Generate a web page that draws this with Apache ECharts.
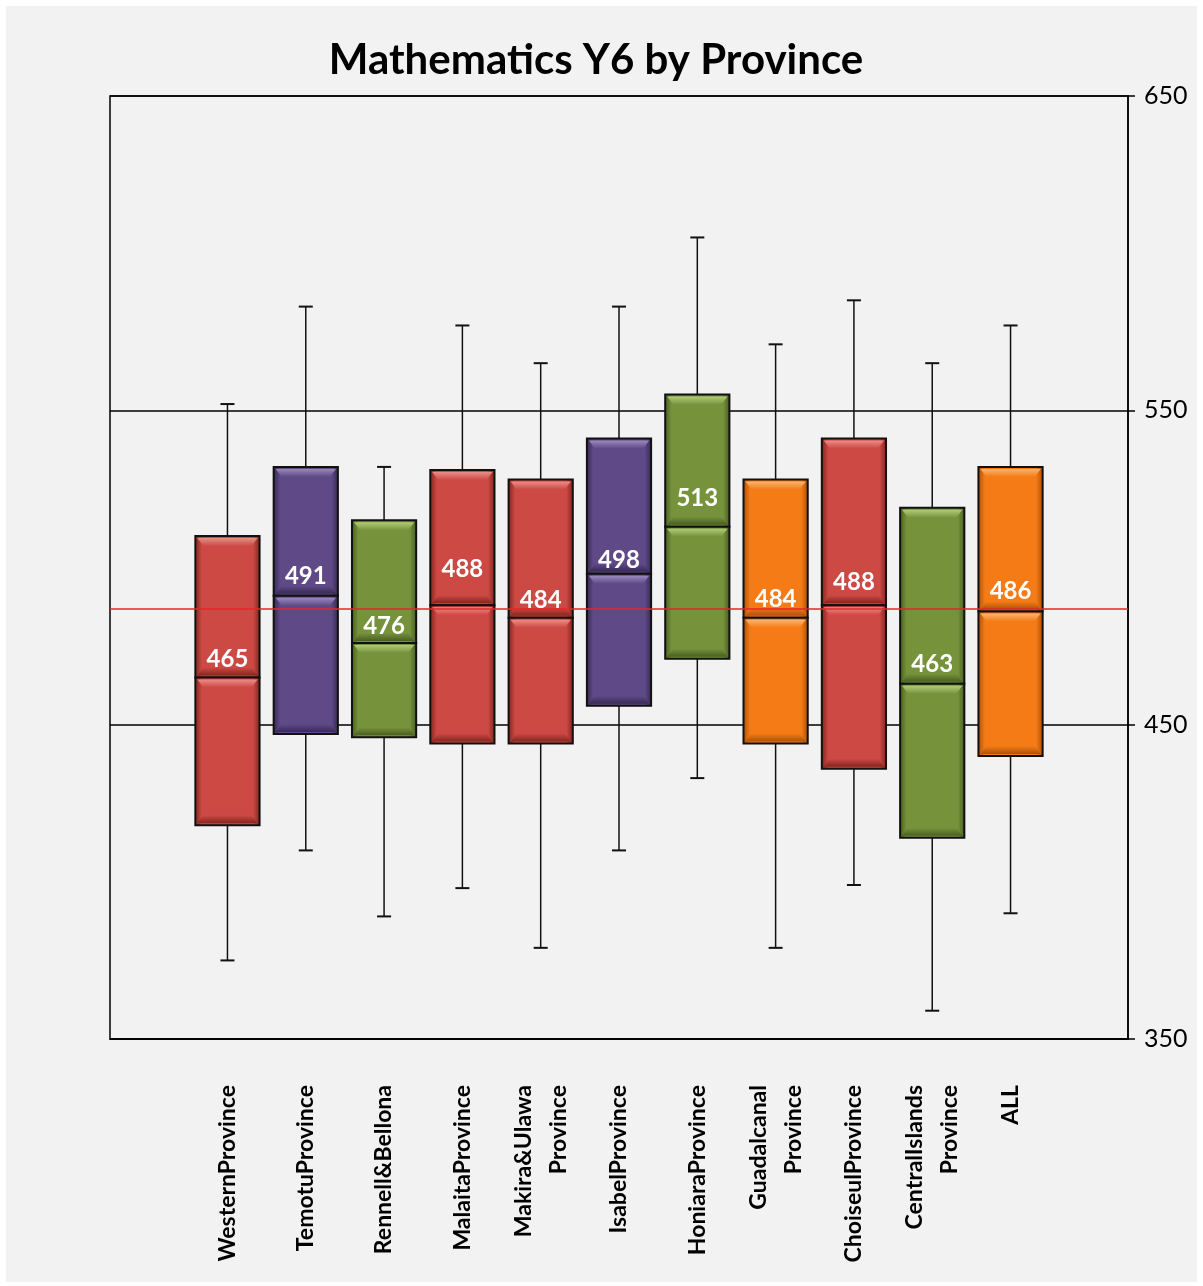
<!DOCTYPE html>
<html>
<head>
<meta charset="utf-8">
<script src="https://cdn.jsdelivr.net/npm/echarts@6/dist/echarts.min.js"></script>
<style>
  html, body { margin: 0; padding: 0; background: #ffffff; }
  #chart { position: absolute; left: 6px; top: 6px; width: 1191px; height: 1276px; }
</style>
</head>
<body>
<div id="chart"></div>
<script>
// ---- data ----
const categories = ['WesternProvince', 'TemotuProvince', 'Rennell&Bellona', 'MalaitaProvince',
  'Makira&Ulawa\nProvince', 'IsabelProvince', 'HoniaraProvince', 'Guadalcanal\nProvince',
  'ChoiseulProvince', 'CentralIslands\nProvince', 'ALL'];
const whiskerLow  = [375, 410, 389, 398, 379, 410, 433, 379, 399, 359, 390];
const q1          = [418, 447, 446, 444, 444, 456, 471, 444, 436, 414, 440];
const median      = [465, 491, 476, 488, 484, 498, 513, 484, 488, 463, 486];
const q3          = [510, 532, 515, 531, 528, 541, 555, 528, 541, 519, 532];
const whiskerHigh = [552, 583, 532, 577, 565, 583, 605, 571, 585, 565, 577];
const referenceValue = 487;
const yTicks = [350, 450, 550, 650];

// ---- styles ----
const palette = {
  red:    { base: '#cc4944', light: '#ec8c87', dark: '#86261f' },
  purple: { base: '#5f4a87', light: '#9a88bd', dark: '#382a55' },
  green:  { base: '#76933c', light: '#afcb77', dark: '#4a5f20' },
  orange: { base: '#f47b15', light: '#fdb470', dark: '#ad5209' }
};
const boxColors = ['red', 'purple', 'green', 'red', 'red', 'purple', 'green', 'orange', 'red', 'green', 'orange'];
// pixel lift of each value label above its median line (label placement style)
const labelLift = [18, 20, 17, 36, 18, 14, 28, 19, 23, 20, 20];

const axisLabels = [''].concat(categories, ['']);
const boxData = categories.map((c, i) => [i + 1, whiskerLow[i], q1[i], median[i], q3[i], whiskerHigh[i]]);

function segment(x0, x1, yTop, yBot, col) {
  const h = yBot - yTop;
  const bev = Math.min(10, h / 3);
  const inset = 8;
  return [
    { type: 'rect', shape: { x: x0, y: yTop, width: x1 - x0, height: h },
      style: { fill: new echarts.graphic.LinearGradient(0, 0, 1, 0, [
        { offset: 0, color: col.dark }, { offset: 0.1, color: col.base },
        { offset: 0.9, color: col.base }, { offset: 1, color: col.dark }]) } },
    { type: 'polygon', shape: { points: [[x0 + 2, yTop + 2], [x1 - 2, yTop + 2], [x1 - inset, yTop + bev], [x0 + inset, yTop + bev]] },
      style: { fill: new echarts.graphic.LinearGradient(0, 0, 0, 1, [
        { offset: 0, color: col.light }, { offset: 1, color: col.base }]) } },
    { type: 'polygon', shape: { points: [[x0 + inset, yBot - bev], [x1 - inset, yBot - bev], [x1 - 2, yBot - 2], [x0 + 2, yBot - 2]] },
      style: { fill: new echarts.graphic.LinearGradient(0, 0, 0, 1, [
        { offset: 0, color: col.base }, { offset: 1, color: col.dark }]) } },
    { type: 'rect', shape: { x: x0, y: yTop, width: x1 - x0, height: h },
      style: { fill: null, stroke: '#111', lineWidth: 2 } }
  ];
}

const chart = echarts.init(document.getElementById('chart'));
chart.setOption({
  backgroundColor: '#f2f2f2',
  animation: false,
  title: {
    text: 'Mathematics Y6 by Province',
    left: 585, top: 28, textAlign: 'center',
    textStyle: { fontFamily: 'Lato', fontWeight: 'bold', fontSize: 42, color: '#000' }
  },
  grid: { left: 104, right: 69, top: 90, bottom: 243, show: true, borderColor: '#000', borderWidth: 1.5, backgroundColor: 'transparent' },
  xAxis: {
    type: 'category', data: axisLabels, boundaryGap: true,
    axisLine: { show: true, lineStyle: { color: '#000', width: 1.5 } },
    axisTick: { show: false },
    axisLabel: { interval: 0, rotate: 90, margin: 46, color: '#000', fontFamily: 'Lato', fontWeight: 'bold', fontSize: 23, lineHeight: 35 }
  },
  yAxis: {
    type: 'value', position: 'right', min: 350, max: 650, interval: 100,
    axisLine: { show: true, lineStyle: { color: '#000', width: 1.5 } },
    axisTick: { show: true, length: 7, lineStyle: { color: '#000', width: 1.5 } },
    axisLabel: { margin: 16, color: '#000', fontFamily: 'Lato', fontSize: 25,
      formatter: v => (yTicks.indexOf(v) >= 0 ? String(v) : '') },
    splitLine: { show: true, lineStyle: { color: '#000', width: 1.5 } }
  },
  series: [{
    type: 'custom',
    data: boxData,
    encode: { x: 0, y: [1, 2, 3, 4, 5] },
    z: 5,
    renderItem: function (params, api) {
      const idx = params.dataIndex;
      const col = palette[boxColors[idx]];
      const x = api.value(0);
      const pLow = api.coord([x, api.value(1)]);
      const pQ1 = api.coord([x, api.value(2)]);
      const pMed = api.coord([x, api.value(3)]);
      const pQ3 = api.coord([x, api.value(4)]);
      const pHigh = api.coord([x, api.value(5)]);
      const bw = api.size([1, 0])[0] * 0.82;
      const cx = pMed[0];
      const x0 = cx - bw / 2, x1 = cx + bw / 2;
      const capW = 7;
      const children = [
        { type: 'line', shape: { x1: cx, y1: pHigh[1], x2: cx, y2: pQ3[1] }, style: { stroke: '#111', lineWidth: 1.5 } },
        { type: 'line', shape: { x1: cx - capW, y1: pHigh[1], x2: cx + capW, y2: pHigh[1] }, style: { stroke: '#111', lineWidth: 2 } },
        { type: 'line', shape: { x1: cx, y1: pQ1[1], x2: cx, y2: pLow[1] }, style: { stroke: '#111', lineWidth: 1.5 } },
        { type: 'line', shape: { x1: cx - capW, y1: pLow[1], x2: cx + capW, y2: pLow[1] }, style: { stroke: '#111', lineWidth: 2 } }
      ].concat(segment(x0, x1, pQ3[1], pMed[1], col), segment(x0, x1, pMed[1], pQ1[1], col));
      children.push({
        type: 'text', x: cx, y: pMed[1] - labelLift[idx],
        style: { text: String(api.value(3)), fill: '#fff', font: 'bold 24px Lato', align: 'center', verticalAlign: 'middle' }
      });
      return { type: 'group', children: children };
    },
    markLine: {
      silent: true, symbol: 'none', z: 10,
      label: { show: false },
      lineStyle: { color: '#e3262b', width: 1.5, type: 'solid' },
      data: [{ yAxis: referenceValue }]
    }
  }]
});
</script>
</body>
</html>
